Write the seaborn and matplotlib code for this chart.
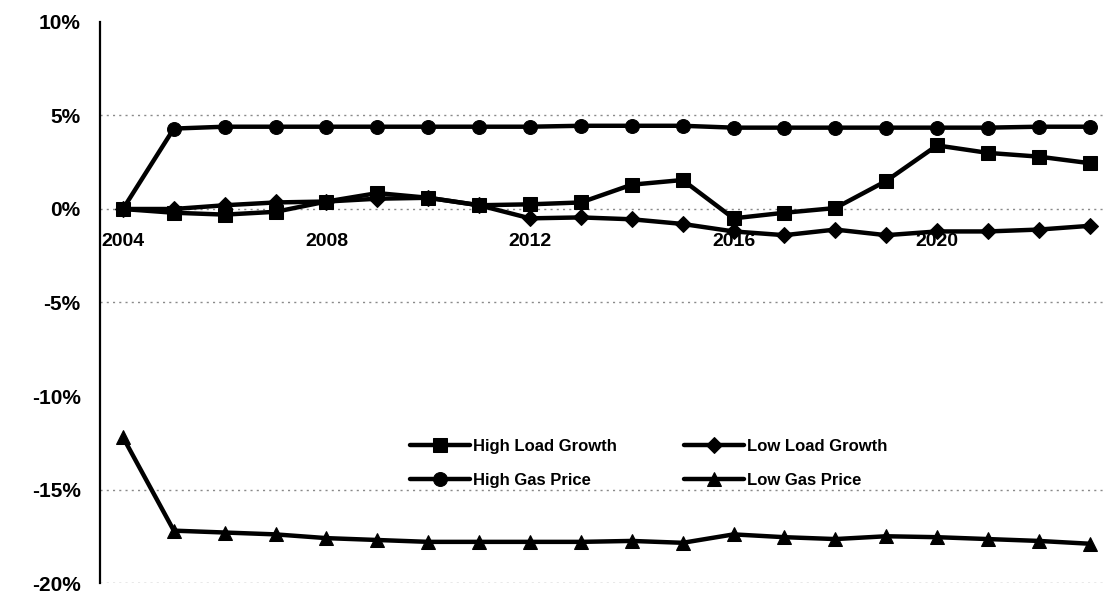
import matplotlib
matplotlib.use("Agg")
import matplotlib.pyplot as plt
import seaborn as sns
import pandas as pd

# Values (percent change vs. base case)
years = list(range(2004, 2024))
high_load = [0.0, -0.2, -0.3, -0.15, 0.4, 0.85, 0.6, 0.2, 0.25, 0.35,
             1.3, 1.55, -0.5, -0.2, 0.05, 1.5, 3.4, 3.0, 2.8, 2.45]
low_load = [0.0, 0.0, 0.2, 0.35, 0.4, 0.55, 0.6, 0.2, -0.5, -0.45,
            -0.55, -0.8, -1.2, -1.4, -1.1, -1.4, -1.2, -1.2, -1.1, -0.9]
high_gas = [0.0, 4.3, 4.4, 4.4, 4.4, 4.4, 4.4, 4.4, 4.4, 4.45,
            4.45, 4.45, 4.35, 4.35, 4.35, 4.35, 4.35, 4.35, 4.4, 4.4]
low_gas = [-12.2, -17.2, -17.3, -17.4, -17.6, -17.7, -17.8, -17.8, -17.8, -17.8,
           -17.75, -17.85, -17.4, -17.55, -17.65, -17.5, -17.55, -17.65, -17.75, -17.9]

series_names = ["High Load Growth", "High Gas Price", "Low Load Growth", "Low Gas Price"]
series_values = [high_load, high_gas, low_load, low_gas]
year_ticks = [2004, 2008, 2012, 2016, 2020]
pct_ticks = [10, 5, 0, -5, -10, -15, -20]
grid_levels = [5, 0, -5, -15, -20]

df = pd.concat(
    [pd.DataFrame({"year": years, "value": vals, "series": name})
     for name, vals in zip(series_names, series_values)],
    ignore_index=True,
)

sns.set_theme(style="white")
plt.rcParams["font.family"] = ["Liberation Sans", "DejaVu Sans"]
plt.rcParams["text.color"] = "black"

fig = plt.figure(figsize=(11.08, 5.96), dpi=100)
ax = fig.add_axes([0.0903, 0.0218, 0.9070, 0.9413])

for lvl in grid_levels:
    ax.axhline(lvl, color="#8a8a8a", linestyle=(0, (1.5, 3)), linewidth=1.0, zorder=0)

markers = {"High Load Growth": "s", "High Gas Price": "o",
           "Low Load Growth": "D", "Low Gas Price": "^"}
sizes = {"High Load Growth": 10, "High Gas Price": 10,
         "Low Load Growth": 8, "Low Gas Price": 9.5}

for name in series_names:
    sub = df[df["series"] == name]
    sns.lineplot(data=sub, x="year", y="value", ax=ax, color="black",
                 linewidth=3.2, marker=markers[name], markersize=sizes[name],
                 markeredgecolor="black", markerfacecolor="black",
                 label=name, zorder=3)

# x axis sits on the 0% line (set before the tick labels, it resets them)
for side in ["top", "right"]:
    ax.spines[side].set_visible(False)
ax.spines["bottom"].set_position(("data", 0))
ax.spines["bottom"].set_visible(False)
ax.spines["left"].set_linewidth(1.6)
ax.spines["left"].set_color("black")

ax.set_xlim(2003.55, 2023.3)
ax.set_ylim(-20, 10)
ax.set_xticks(year_ticks)
ax.set_xticklabels([str(y) for y in year_ticks], fontsize=14, fontweight="bold")
ax.set_yticks(pct_ticks)
ax.set_yticklabels([f"{t}%" for t in pct_ticks], fontsize=15, fontweight="bold")

ax.tick_params(axis="y", direction="out", length=8, width=1.6, color="black",
               labelcolor="black", pad=6)
ax.tick_params(axis="x", length=0, pad=17, labelcolor="black")
ax.set_xlabel("")
ax.set_ylabel("")

leg = ax.legend(loc="upper left", bbox_to_anchor=(395 / 1108, 1 - 424 / 596),
                bbox_transform=fig.transFigure, ncol=2, frameon=False,
                prop={"size": 12, "weight": "bold"}, handlelength=3.6,
                handletextpad=0.2, columnspacing=4.0, labelspacing=1.15)
for txt in leg.get_texts():
    txt.set_color("black")

fig.savefig("out.png", dpi=100)
